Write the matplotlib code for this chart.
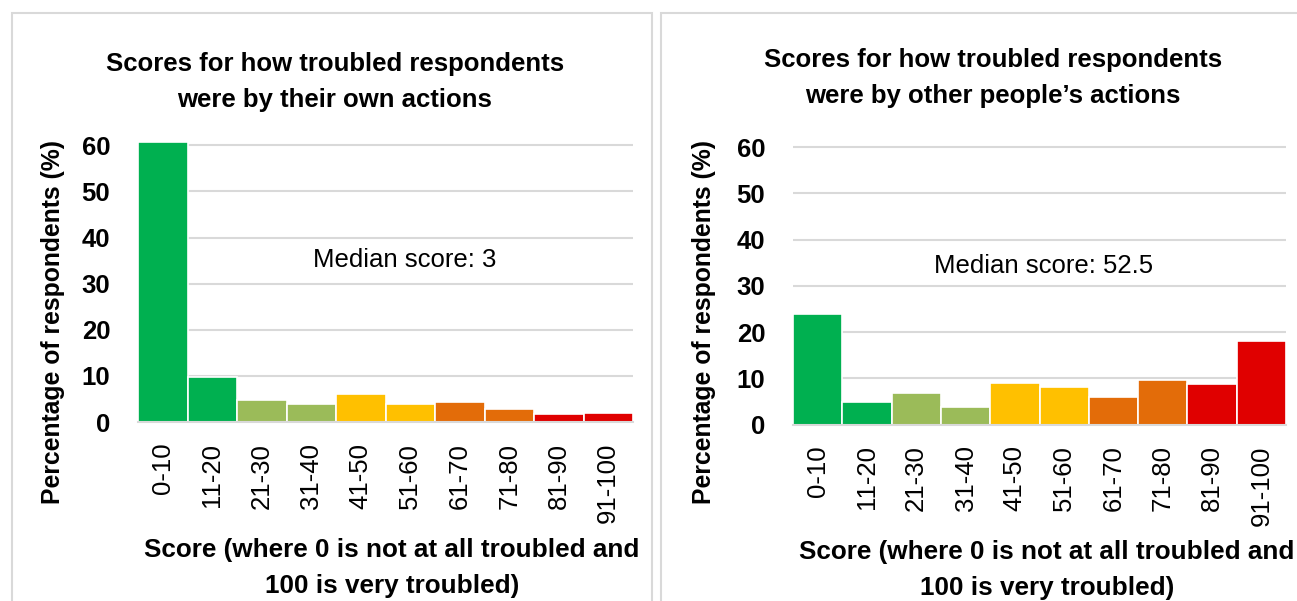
import numpy as np
import matplotlib
matplotlib.use("Agg")
from matplotlib import pyplot as plt
from matplotlib.patches import Rectangle

categories = ["0-10", "11-20", "21-30", "31-40", "41-50", "51-60", "61-70", "71-80", "81-90", "91-100"]
own_actions = [60.7, 9.8, 4.8, 3.9, 6.0, 3.8, 4.3, 2.8, 1.7, 1.9]
others_actions = [24.0, 4.9, 6.9, 3.8, 9.0, 8.2, 6.0, 9.7, 8.8, 18.1]
bar_colours = ["#00B050", "#00B050", "#9BBB59", "#9BBB59", "#FFC000",
               "#FFC000", "#E36C09", "#E36C09", "#E00000", "#E00000"]
yticks = [0, 10, 20, 30, 40, 50, 60]

titles = ["Scores for how troubled respondents\nwere by their own actions",
          "Scores for how troubled respondents\nwere by other people\u2019s actions"]
medians = ["Median score: 3", "Median score: 52.5"]
xlabel = "Score (where 0 is not at all troubled and\n100 is very troubled)"
ylabel = "Percentage of respondents (%)"

W, H = 1297, 601
plt.rcParams["font.family"] = ["Liberation Sans", "DejaVu Sans"]
fig = plt.figure(figsize=(W / 100, H / 100), dpi=100)

def fx(px):
    return px / W

def fy(py):
    return 1 - py / H

# panel borders in pixels: left, top, right
panels = [(12, 13, 652), (661, 13, 1325)]
for left, top, right in panels:
    fig.patches.append(Rectangle((fx(left), fy(H + 5)), fx(right - left), fy(top) - fy(H + 5),
                                 transform=fig.transFigure, fill=False,
                                 edgecolor="#D9D9D9", linewidth=1.5))

# axes placement in pixels: x0, x1, y of zero, pixels per unit
layouts = [(138, 633, 422, 4.61), (793, 1286, 424.5, 4.62)]
datasets = [own_actions, others_actions]
title_pos = [(335, 82), (993, 78)]
median_pos = [(405, 260), (1044, 266)]
xlabel_pos = [(392, 568), (1047, 570)]
ylabel_x = [53, 704]
ymax = 62

for i, (x0, x1, y0, ppu) in enumerate(layouts):
    top_px = y0 - ymax * ppu
    ax = fig.add_axes([fx(x0), fy(y0), fx(x1 - x0), fy(top_px) - fy(y0)])
    x = np.arange(len(categories))
    ax.bar(x, datasets[i], width=1.0, color=bar_colours, edgecolor="white", linewidth=1.2, zorder=2)
    ax.set_xlim(-0.5, len(categories) - 0.5)
    ax.set_ylim(0, ymax)
    ax.set_yticks(yticks)
    ax.set_yticklabels([str(t) for t in yticks], fontsize=18.5, fontweight="bold")
    ax.set_xticks(x)
    ax.set_xticklabels(categories, rotation=90, fontsize=18.5)
    ax.tick_params(axis="both", length=0)
    ax.tick_params(axis="y", pad=20)
    ax.tick_params(axis="x", pad=15)
    ax.grid(axis="y", color="#D9D9D9", linewidth=1.5, zorder=0)
    for side in ["top", "right", "left"]:
        ax.spines[side].set_visible(False)
    ax.spines["bottom"].set_color("#D9D9D9")
    ax.spines["bottom"].set_linewidth(1.5)

    fig.text(fx(median_pos[i][0]), fy(median_pos[i][1]), medians[i], ha="center", va="center",
             fontsize=18.5)
    fig.text(fx(title_pos[i][0]), fy(title_pos[i][1]), titles[i], ha="center", va="center",
             fontsize=18.5, fontweight="bold", linespacing=1.6)
    fig.text(fx(xlabel_pos[i][0]), fy(xlabel_pos[i][1]), xlabel, ha="center", va="center",
             fontsize=18.8, fontweight="bold", linespacing=1.6)
    fig.text(fx(ylabel_x[i]), fy(322), ylabel, ha="center", va="center",
             rotation=90, fontsize=17.8, fontweight="bold")

fig.savefig("out.png", dpi=100, facecolor="white")
